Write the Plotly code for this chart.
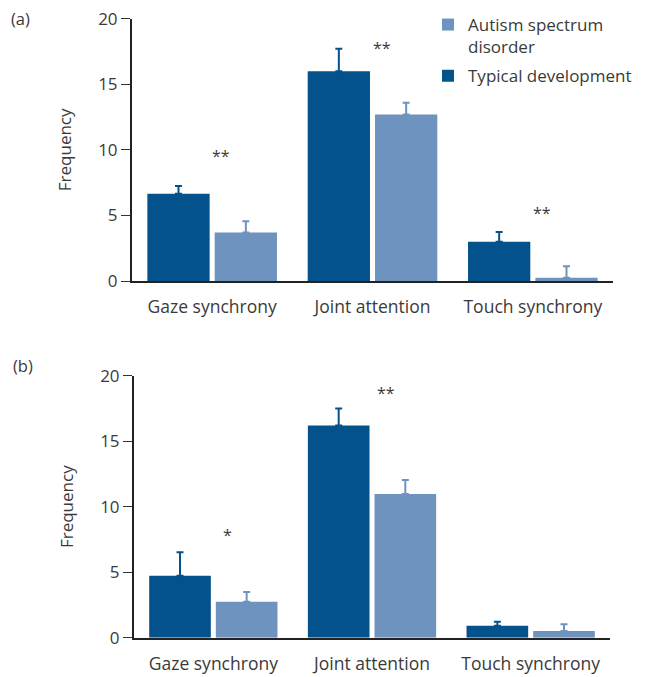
import plotly.graph_objects as go

categories = ["Gaze synchrony", "Joint attention", "Touch synchrony"]

# Panel (a)
a_td = [6.65, 16.0, 3.0]
a_td_err = [0.6, 1.7, 0.73]
a_asd = [3.7, 12.7, 0.25]
a_asd_err = [0.85, 0.9, 0.87]
a_stars = ["**", "**", "**"]
a_star_y = [9.5, 17.8, 5.2]

# Panel (b)
b_td = [4.73, 16.2, 0.92]
b_td_err = [1.8, 1.3, 0.3]
b_asd = [2.75, 10.97, 0.51]
b_asd_err = [0.74, 1.07, 0.51]
b_stars = ["*", "**", ""]
b_star_y = [7.85, 18.7, 0]

y_ticks = [0, 5, 10, 15, 20]

TD_COLOR = "#03528B"
ASD_COLOR = "#6E93BE"
TEXT = "#3a3a3a"
FONT = "Open Sans"

# page body has an 8px margin, so the figure is drawn 8px in from the corner
OFF = 8.0
W = 653.0 - OFF
H = 677.0 - OFF

def px(x):
    return (x - OFF) / W

def py(y):
    return 1 - (y - OFF) / H

fig = go.Figure()

def add_panel(td, td_err, asd, asd_err, xa, ya, showlegend):
    fig.add_trace(go.Bar(
        x=categories, y=td, name="Typical development", marker_color=TD_COLOR,
        marker_line_width=0, legendgroup="td",
        error_y=dict(type="data", symmetric=False, array=td_err, arrayminus=[0]*3,
                     color=TD_COLOR, thickness=2, width=3.5),
        xaxis=xa, yaxis=ya, showlegend=showlegend, legendrank=2))
    fig.add_trace(go.Bar(
        x=categories, y=asd, name="Autism spectrum<br>disorder", marker_color=ASD_COLOR,
        marker_line_width=0, legendgroup="asd",
        error_y=dict(type="data", symmetric=False, array=asd_err, arrayminus=[0]*3,
                     color=ASD_COLOR, thickness=2, width=3.5),
        xaxis=xa, yaxis=ya, showlegend=showlegend, legendrank=1))

add_panel(a_td, a_td_err, a_asd, a_asd_err, "x", "y", True)
add_panel(b_td, b_td_err, b_asd, b_asd_err, "x2", "y2", False)

yaxis_common = dict(
    range=[0, 20], tickvals=y_ticks, showline=True, linecolor="#222222", linewidth=2,
    ticks="outside", ticklen=9, tickwidth=1.3, tickcolor="#333333",
    showgrid=False, zeroline=False, automargin=False, ticklabeloverflow="allow",
    tickfont=dict(family=FONT, size=17, color=TEXT),
    title=dict(text="Frequency", font=dict(family=FONT, size=17, color=TEXT), standoff=22),
)
xaxis_common = dict(
    showline=True, linecolor="#222222", linewidth=2, ticks="", showgrid=False,
    automargin=False, ticklabelstandoff=9, ticklabeloverflow="allow",
    tickfont=dict(family=FONT, size=17.5, color=TEXT),
)

fig.update_layout(
    width=W, height=H,
    margin=dict(l=0, r=0, t=0, b=0, autoexpand=False),
    paper_bgcolor="white", plot_bgcolor="white",
    barmode="group", bargap=0.16, bargroupgap=0.075,
    font=dict(family=FONT, color=TEXT),
    xaxis=dict(domain=[px(132), px(613)], anchor="y", **xaxis_common),
    yaxis=dict(domain=[py(281), py(18.7)], anchor="x", **yaxis_common),
    xaxis2=dict(domain=[px(134), px(610)], anchor="y2", **xaxis_common),
    yaxis2=dict(domain=[py(637.7), py(375.7)], anchor="x2", **yaxis_common),
    legend=dict(x=px(428), y=py(7), xanchor="left", yanchor="top",
                font=dict(family=FONT, size=17, color=TEXT),
                valign="top", itemwidth=30, tracegroupgap=4, bgcolor="rgba(0,0,0,0)"),
)

annotations = []
for cat, s, yv in zip(categories, a_stars, a_star_y):
    if s:
        annotations.append(dict(x=cat, y=yv, xref="x", yref="y", text=s, showarrow=False,
                                xshift=9, font=dict(family=FONT, size=16, color=TEXT)))
for cat, s, yv in zip(categories, b_stars, b_star_y):
    if s:
        annotations.append(dict(x=cat, y=yv, xref="x2", yref="y2", text=s, showarrow=False,
                                xshift=14, font=dict(family=FONT, size=16, color=TEXT)))
annotations.append(dict(x=px(9), y=py(18), xref="paper", yref="paper", text="(a)",
                        showarrow=False, xanchor="left", yanchor="middle",
                        font=dict(family=FONT, size=16.5, color=TEXT)))
annotations.append(dict(x=px(11), y=py(365), xref="paper", yref="paper", text="(b)",
                        showarrow=False, xanchor="left", yanchor="middle",
                        font=dict(family=FONT, size=16.5, color=TEXT)))
fig.update_layout(annotations=annotations)

fig.write_html("out.html")
